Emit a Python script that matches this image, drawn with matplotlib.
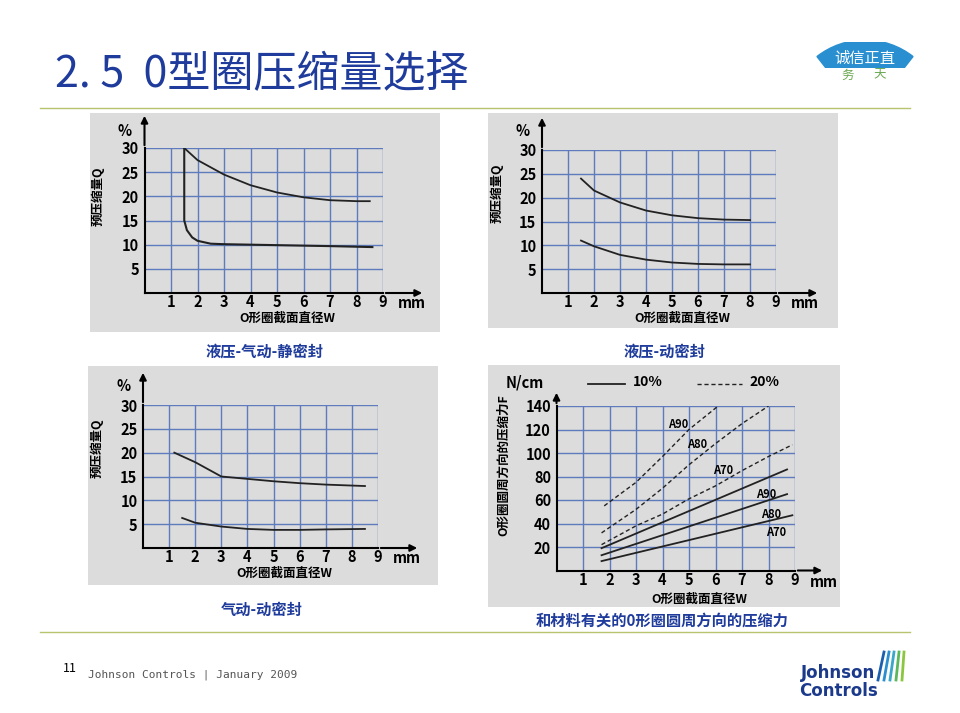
import matplotlib
matplotlib.use("Agg")
import matplotlib.pyplot as plt
from matplotlib.patches import Wedge
import numpy as np

plt.rcParams['font.family'] = ['Noto Sans CJK SC', 'DejaVu Sans']

W, H = 960, 713
fig = plt.figure(figsize=(9.6, 7.13), dpi=100)

# ---------- data ----------
x_ticks = [1, 2, 3, 4, 5, 6, 7, 8, 9]
q_ticks = [5, 10, 15, 20, 25, 30]
f_ticks = [20, 40, 60, 80, 100, 120, 140]

tl_upper_x = [1.5, 2, 3, 4, 5, 6, 7, 8, 8.5]
tl_upper_y = [30, 27.5, 24.5, 22.3, 20.8, 19.8, 19.2, 19.0, 19.0]
tl_lower_x = [1.5, 1.5, 1.6, 1.8, 2, 2.5, 3, 5, 7, 8.6]
tl_lower_y = [30, 15, 13, 11.5, 10.8, 10.2, 10.1, 9.9, 9.7, 9.5]

tr_upper_x = [1.5, 2, 3, 4, 5, 6, 7, 8]
tr_upper_y = [24, 21.5, 19, 17.3, 16.3, 15.7, 15.4, 15.3]
tr_lower_x = [1.5, 2, 3, 4, 5, 6, 7, 8]
tr_lower_y = [11, 9.8, 8, 7, 6.4, 6.1, 6.0, 6.0]

bl_upper_x = [1.2, 2, 3, 4, 5, 6, 7, 8.5]
bl_upper_y = [20, 18, 15, 14.5, 14, 13.6, 13.3, 13]
bl_lower_x = [1.5, 2, 3, 4, 5, 6, 7, 8.5]
bl_lower_y = [6.3, 5.3, 4.5, 4.0, 3.8, 3.8, 3.9, 4.0]

br_s90_x = [1.7, 8.7]; br_s90_y = [19, 86]
br_s80_x = [1.7, 8.7]; br_s80_y = [13, 65]
br_s70_x = [1.7, 8.9]; br_s70_y = [8, 47]
br_d90_x = [1.8, 3, 4, 5, 6.1]; br_d90_y = [55, 75, 97, 120, 140]
br_d80_x = [1.7, 3, 4, 5, 6, 7, 8]; br_d80_y = [32, 52, 70, 90, 108, 125, 140]
br_d70_x = [1.7, 3, 4, 5, 6, 7, 8, 8.9]; br_d70_y = [22, 38, 48, 61, 72, 85, 97, 107]

BLUE = '#1f3c9c'
GRID = '#5d7bbd'
BG = '#dcdcdc'

def fx(px): return px / W
def fy(py): return 1 - py / H

def grey(x0, y0, x1, y1):
    g = fig.add_axes([fx(x0), fy(y1), fx(x1) - fx(x0), fy(y0) - fy(y1)])
    g.set_facecolor(BG)
    g.set_xticks([]); g.set_yticks([])
    for s in g.spines.values():
        s.set_visible(False)

def panel(px0, px1, py0, py1, ymax, yticks, ystep, ylabel, unit, arrow_top, arrow_right):
    ax = fig.add_axes([fx(px0), fy(py0), fx(px1) - fx(px0), fy(py1) - fy(py0)])
    ax.set_facecolor('none')
    ax.set_xlim(0, 9); ax.set_ylim(0, ymax)
    for v in range(1, 10):
        ax.axvline(v, color=GRID, lw=1, zorder=1)
    for v in np.arange(ystep, ymax + 0.1, ystep):
        ax.axhline(v, color=GRID, lw=1, zorder=1)
    ax.set_xticks(x_ticks); ax.set_yticks(yticks)
    ax.tick_params(length=0, labelsize=10.5)
    ax.tick_params(axis='x', pad=1)
    ax.tick_params(axis='y', pad=4)
    for t in ax.get_xticklabels() + ax.get_yticklabels():
        t.set_fontweight('bold')
    for s in ['top', 'right']:
        ax.spines[s].set_visible(False)
    for s in ['left', 'bottom']:
        ax.spines[s].set_linewidth(1.5)
    ytop = ymax * (1 + (py1 - arrow_top) / (py0 - py1))
    xr = 9 * (1 + (arrow_right - px1) / (px1 - px0))
    ax.annotate('', xy=(0, ytop), xytext=(0, ymax), annotation_clip=False,
                arrowprops=dict(arrowstyle='-|>', color='black', lw=1.5))
    ax.annotate('', xy=(xr, 0), xytext=(9, 0), annotation_clip=False,
                arrowprops=dict(arrowstyle='-|>', color='black', lw=1.5))
    ax.text(10.1, -ymax * 0.07, 'mm', fontsize=10.5,
            fontweight='bold', ha='center', va='center', clip_on=False)
    ax.text(5.4, -ymax * 0.175, 'O形圈截面直径W', fontsize=9, fontweight='bold',
            ha='center', va='center', clip_on=False)
    ax.text(ylabel[2], ylabel[1], ylabel[0], fontsize=9, fontweight='bold', rotation=90,
            ha='center', va='center', clip_on=False)
    ax.text(unit[0], unit[1], unit[2], fontsize=10.5, fontweight='bold',
            ha='center', va='center', clip_on=False)
    return ax

# TL
grey(90, 113, 440, 332)
ax = panel(144.5, 383, 293, 148, 30, q_ticks, 5, ('预压缩量Q', 20, -1.75), (-0.75, 33.5, '%'), 113, 425)
ax.plot(tl_upper_x, tl_upper_y, color='#222', lw=1.3)
ax.plot(tl_lower_x, tl_lower_y, color='#222', lw=1.5)

# TR
grey(488, 113, 838, 328)
ax = panel(542, 776, 293, 150, 30, q_ticks, 5, ('预压缩量Q', 21, -1.75), (-0.75, 34, '%'), 115, 820)
ax.plot(tr_upper_x, tr_upper_y, color='#222', lw=1.3)
ax.plot(tr_lower_x, tr_lower_y, color='#222', lw=1.3)

# BL
grey(88, 366, 438, 585)
ax = panel(143, 378, 548, 405, 30, q_ticks, 5, ('预压缩量Q', 21, -1.75), (-0.75, 34, '%'), 370, 420)
ax.plot(bl_upper_x, bl_upper_y, color='#222', lw=1.3)
ax.plot(bl_lower_x, bl_lower_y, color='#222', lw=1.3)

# BR
grey(488, 365, 840, 607)
ax = panel(556.5, 795, 570.5, 406, 140, f_ticks, 20, ('O形圈圆周方向的压缩力F', 90, -2.0), (-1.2, 160, 'N/cm'), 390, 825)
for xs, ys in [(br_s90_x, br_s90_y), (br_s80_x, br_s80_y), (br_s70_x, br_s70_y)]:
    ax.plot(xs, ys, color='#222', lw=1.3)
for xs, ys in [(br_d90_x, br_d90_y), (br_d80_x, br_d80_y), (br_d70_x, br_d70_y)]:
    ax.plot(xs, ys, color='#222', lw=1.0, ls=(0, (3, 2)))
for (x, y, s) in [(4.6, 124, 'A90'), (5.3, 107, 'A80'), (6.3, 85, 'A70'),
                  (7.9, 65, 'A90'), (8.1, 48, 'A80'), (8.3, 32, 'A70')]:
    ax.text(x, y, s, fontsize=8, fontweight='bold', ha='center', va='center')
ax.plot([1.2, 2.6], [159, 159], color='#222', lw=1.3, clip_on=False)
ax.text(2.9, 160, '10%', fontsize=10, fontweight='bold', va='center', clip_on=False)
ax.plot([5.3, 7.0], [159, 159], color='#222', lw=1.0, ls=(0, (3, 2)), clip_on=False)
ax.text(7.3, 160, '20%', fontsize=10, fontweight='bold', va='center', clip_on=False)

# captions
for (x, y, s) in [(265, 352, '液压-气动-静密封'), (665, 352, '液压-动密封'),
                  (262, 610, '气动-动密封'), (662, 621, '和材料有关的0形圈圆周方向的压缩力')]:
    fig.text(fx(x), fy(y), s, fontsize=11, fontweight='bold', color=BLUE, ha='center', va='center')

# title and lines
fig.text(fx(55), fy(75), '2. 5  0型圈压缩量选择', fontsize=31, color=BLUE, va='center', ha='left',
         fontweight='medium')
fig.add_artist(plt.Line2D([fx(40), fx(910)], [fy(108), fy(108)], color='#b8c46e', lw=1))
fig.add_artist(plt.Line2D([fx(40), fx(910)], [fy(632), fy(632)], color='#b8c46e', lw=1))

# logo top-right
lax = fig.add_axes([fx(815), fy(68), fx(915) - fx(815), fy(42) - fy(68)])
lax.set_xlim(0, 100); lax.set_ylim(0, 26); lax.axis('off')
lax.add_patch(Wedge((50, -50), 78, 52, 128, color='#2a8fd0'))
lax.text(50, 10, '诚信正直', fontsize=11, color='white', ha='center', va='center')
fig.text(fx(848), fy(75), '务', fontsize=9, color='#6aa84f', ha='center', va='center')
fig.text(fx(880), fy(75), '天', fontsize=9, color='#6aa84f', ha='center', va='center')

# footer
fig.text(fx(63), fy(668), '11', fontsize=9, ha='left', va='center')
fig.text(fx(88), fy(675), 'Johnson Controls | January 2009', fontsize=8, color='#555',
         family='DejaVu Sans Mono', ha='left', va='center')
fig.text(fx(838), fy(682), 'Johnson\nControls', fontsize=12, color='#1b3a8c', fontweight='bold',
         ha='center', va='center', linespacing=1.0, family='DejaVu Sans')
for i, c in enumerate(['#1b5fae', '#2a8fd0', '#3aa6c8', '#5ab85a', '#8cc63f']):
    fig.add_artist(plt.Line2D([fx(878 + i * 6), fx(884 + i * 5)], [fy(680), fy(652)], color=c, lw=2))

fig.savefig('out.png', dpi=100)
